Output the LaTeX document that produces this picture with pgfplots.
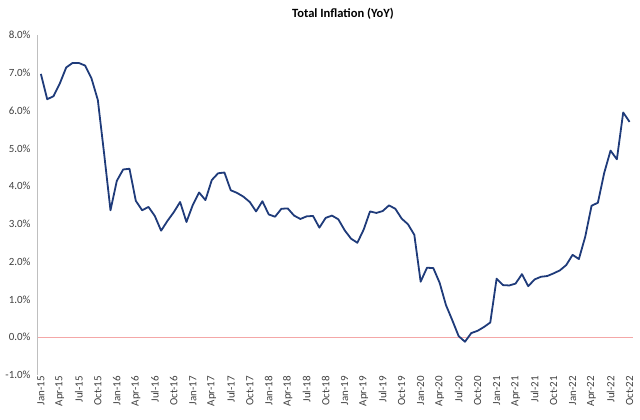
\documentclass[border=0pt]{standalone}
\usepackage{pgfplots}
\pgfplotsset{compat=1.18}
\usepackage{fontspec}
\setmainfont{Carlito}
\definecolor{lineblue}{HTML}{1F3B7A}
\definecolor{zeroline}{HTML}{F4A7A7}
\definecolor{axgray}{HTML}{BFBFBF}
\definecolor{txtgray}{HTML}{404040}
\begin{document}
\begin{tikzpicture}
\begin{axis}[
  at={(37.7bp,45bp)}, anchor=south west,
  scale only axis,
  width=595bp, height=340bp,
  xmin=-0.5, xmax=93.5,
  ymin=-1, ymax=8,
  axis y line*=left,
  axis x line*=bottom,
  x axis line style={draw=none},
  y axis line style={draw=axgray, line width=0.8bp},
  major tick length=0pt,
  ytick={-1,0,1,2,3,4,5,6,7,8},
  yticklabel={\pgfmathprintnumber[fixed,fixed zerofill,precision=1]{\tick}\%},
  /pgf/number format/assume math mode=true,
  xtick={0,3,...,93},
  xticklabels={Jan-15,Apr-15,Jul-15,Oct-15,Jan-16,Apr-16,Jul-16,Oct-16,Jan-17,Apr-17,Jul-17,Oct-17,Jan-18,Apr-18,Jul-18,Oct-18,Jan-19,Apr-19,Jul-19,Oct-19,Jan-20,Apr-20,Jul-20,Oct-20,Jan-21,Apr-21,Jul-21,Oct-21,Jan-22,Apr-22,Jul-22,Oct-22},
  xticklabel style={rotate=90, anchor=east, font=\fontsize{11}{13}\selectfont, text=txtgray, inner sep=1pt, yshift=0bp},
  yticklabel style={font=\fontsize{11}{13}\selectfont, text=txtgray, inner sep=1pt, xshift=-6bp},
  title={\textbf{Total Inflation (YoY)}},
  title style={font=\fontsize{12.6}{15}\selectfont, at={(0.513,1)}, anchor=south, yshift=6bp},
  clip=false,
]
\addplot[zeroline, line width=1.2bp, forget plot] coordinates {(-0.5,0) (93.5,0)};
\addplot[lineblue, line width=1.8bp, line join=round] coordinates {
(0,6.97) (1,6.30) (2,6.38) (3,6.72) (4,7.14) (5,7.26) (6,7.26) (7,7.19) (8,6.85) (9,6.28)
(10,4.85) (11,3.36) (12,4.14) (13,4.44) (14,4.46) (15,3.61) (16,3.36) (17,3.45) (18,3.21) (19,2.82)
(20,3.08) (21,3.31) (22,3.58) (23,3.05) (24,3.50) (25,3.83) (26,3.63) (27,4.16) (28,4.34) (29,4.36)
(30,3.89) (31,3.82) (32,3.72) (33,3.58) (34,3.33) (35,3.60) (36,3.25) (37,3.19) (38,3.40) (39,3.41)
(40,3.22) (41,3.13) (42,3.20) (43,3.21) (44,2.90) (45,3.16) (46,3.22) (47,3.12) (48,2.83) (49,2.61)
(50,2.50) (51,2.85) (52,3.33) (53,3.29) (54,3.34) (55,3.49) (56,3.40) (57,3.14) (58,2.99) (59,2.71)
(60,1.47) (61,1.84) (62,1.83) (63,1.44) (64,0.85) (65,0.45) (66,0.03) (67,-0.12) (68,0.11) (69,0.17)
(70,0.27) (71,0.39) (72,1.55) (73,1.38) (74,1.37) (75,1.42) (76,1.67) (77,1.35) (78,1.53) (79,1.60)
(80,1.62) (81,1.69) (82,1.77) (83,1.91) (84,2.18) (85,2.07) (86,2.66) (87,3.48) (88,3.56) (89,4.35)
(90,4.94) (91,4.71) (92,5.95) (93,5.70)
};
\end{axis}
\pgfresetboundingbox
\useasboundingbox (0,0) rectangle (640bp,420bp);
\end{tikzpicture}
\end{document}
